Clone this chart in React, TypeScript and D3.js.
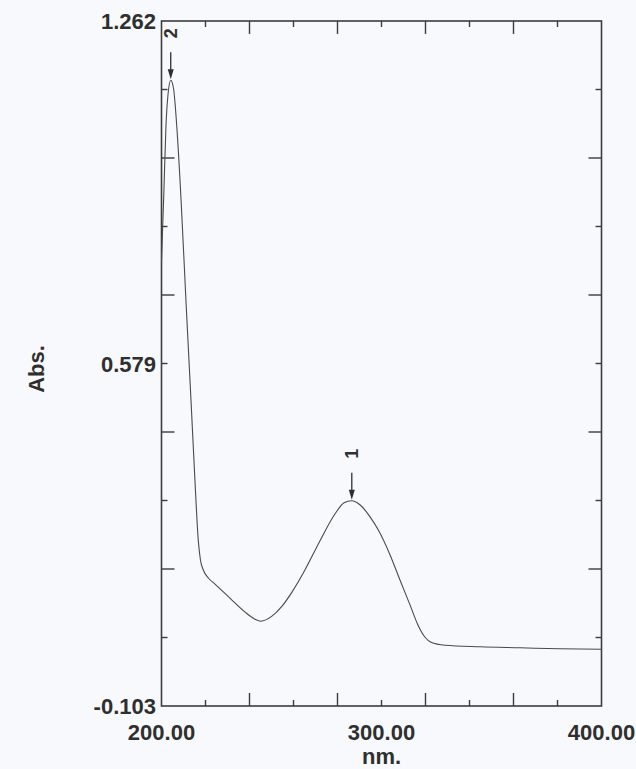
import React, { useMemo } from "react";
import * as d3 from "d3";

// UV-Vis absorbance spectrum (wavelength in nm, absorbance)
const wavelengths = [
  200.0, 201.1, 202.05, 202.95, 204.2, 205.45, 207.05, 208.9, 211.1, 213.4,
  215.2, 216.7, 217.7, 219.0, 221.3, 224.3, 231.1, 238.0, 242.5, 245.2,
  250.2, 254.8, 259.3, 265.2, 272.0, 278.9, 283.0, 286.5, 290.2, 294.8,
  298.5, 303.9, 308.4, 313.0, 316.6, 319.8, 322.5, 328.9, 344.8, 363.0,
  381.1, 400.0,
];
const absorbance = [
  0.782, 0.925, 1.055, 1.115, 1.144, 1.128, 1.045, 0.905, 0.706, 0.507,
  0.347, 0.228, 0.188, 0.168, 0.152, 0.140, 0.112, 0.084, 0.070, 0.066,
  0.076, 0.096, 0.124, 0.168, 0.226, 0.280, 0.302, 0.306, 0.298, 0.274,
  0.248, 0.198, 0.148, 0.098, 0.058, 0.034, 0.024, 0.018, 0.015, 0.013,
  0.011, 0.010,
];

// Marked peaks
const peakLabels = ["1", "2"];
const peakWavelengths = [286.5, 204.2];

// Axis settings
const xDomain = [200, 400];
const yDomain = [-0.103, 1.262];
const xTickLabels = ["200.00", "300.00", "400.00"];
const xTickLabelValues = [200, 300, 400];
const yTickLabels = ["-0.103", "0.579", "1.262"];
const yTickLabelValues = [-0.103, 0.5795, 1.262];
const tickDivisions = 10;

const W = 636;
const H = 769;
const left = 161.5;
const right = 601.5;
const top = 21;
const bottom = 706;

const ink = "#2f2f2f";
const frameColor = "#3c3c3c";
const lineColor = "#4a4a4a";
const font = "'Liberation Sans', Arial, Helvetica, sans-serif";

export default function App() {
  const x = d3.scaleLinear().domain(xDomain).range([left, right]);
  const y = d3.scaleLinear().domain(yDomain).range([bottom, top]);

  const data = useMemo(
    () => wavelengths.map((w, i) => ({ w, a: absorbance[i] })),
    []
  );

  const path = d3
    .line<{ w: number; a: number }>()
    .x((d) => x(d.w))
    .y((d) => y(d.a))
    .curve(d3.curveMonotoneX)(data) as string;

  const xTicks = d3.range(tickDivisions + 1).map(
    (i) => xDomain[0] + ((xDomain[1] - xDomain[0]) * i) / tickDivisions
  );
  const yTicks = d3.range(tickDivisions + 1).map(
    (i) => yDomain[0] + ((yDomain[1] - yDomain[0]) * i) / tickDivisions
  );

  const tickLen = (i: number) => (i === 0 || i === tickDivisions ? 0 : i % 2 === 0 ? 13 : 6);

  const peaks = peakWavelengths.map((pw, k) => {
    const idx = d3.minIndex(wavelengths, (w) => Math.abs(w - pw));
    return { label: peakLabels[k], w: wavelengths[idx], a: absorbance[idx] };
  });

  return (
    <svg
      width={W}
      height={H}
      style={{ position: "absolute", left: 0, top: 0, display: "block" }}
    >
      <rect x={0} y={0} width={W} height={H} fill="#f7f9fc" />

      {/* tick marks on all four sides, pointing inward */}
      <g stroke={frameColor} strokeWidth={1.4}>
        {xTicks.map((t, i) =>
          tickLen(i) ? (
            <g key={"xt" + i}>
              <line x1={x(t)} x2={x(t)} y1={bottom} y2={bottom - tickLen(i)} />
              <line x1={x(t)} x2={x(t)} y1={top} y2={top + tickLen(i)} />
            </g>
          ) : null
        )}
        {yTicks.map((t, i) =>
          tickLen(i) ? (
            <g key={"yt" + i}>
              <line x1={left} x2={left + tickLen(i)} y1={y(t)} y2={y(t)} />
              <line x1={right} x2={right - tickLen(i)} y1={y(t)} y2={y(t)} />
            </g>
          ) : null
        )}
      </g>

      {/* frame */}
      <rect
        x={left}
        y={top}
        width={right - left}
        height={bottom - top}
        fill="none"
        stroke={frameColor}
        strokeWidth={1.6}
      />

      {/* spectrum */}
      <path d={path} fill="none" stroke={lineColor} strokeWidth={1.1} />

      {/* peak markers */}
      {peaks.map((p) => {
        const px = x(p.w);
        const tip = y(p.a) - 1;
        return (
          <g key={"pk" + p.label}>
            <line x1={px} x2={px} y1={tip - 27} y2={tip - 6} stroke={ink} strokeWidth={1.3} />
            <path
              d={`M${px - 3},${tip - 10} L${px + 3},${tip - 10} L${px},${tip} Z`}
              fill={ink}
            />
            <text
              transform={`translate(${px},${tip - 46}) rotate(-90)`}
              textAnchor="middle"
              dominantBaseline="central"
              fontFamily={font}
              fontWeight="bold"
              fontSize={18}
              fill={ink}
            >
              {p.label}
            </text>
          </g>
        );
      })}

      {/* y tick labels */}
      {yTickLabels.map((lab, i) => (
        <text
          key={"yl" + i}
          x={156}
          y={y(yTickLabelValues[i]) + 8}
          textAnchor="end"
          fontFamily={font}
          fontWeight="bold"
          fontSize={22}
          fill={ink}
        >
          {lab}
        </text>
      ))}

      {/* x tick labels */}
      {xTickLabels.map((lab, i) => (
        <text
          key={"xl" + i}
          x={x(xTickLabelValues[i])}
          y={740}
          textAnchor="middle"
          fontFamily={font}
          fontWeight="bold"
          fontSize={22}
          fill={ink}
        >
          {lab}
        </text>
      ))}

      {/* axis titles */}
      <text
        x={x(300)}
        y={764}
        textAnchor="middle"
        fontFamily={font}
        fontWeight="bold"
        fontSize={22}
        fill={ink}
      >
        nm.
      </text>
      <text
        transform={`translate(44,369) rotate(-90)`}
        textAnchor="middle"
        fontFamily={font}
        fontWeight="bold"
        fontSize={22}
        fill={ink}
      >
        Abs.
      </text>
    </svg>
  );
}
